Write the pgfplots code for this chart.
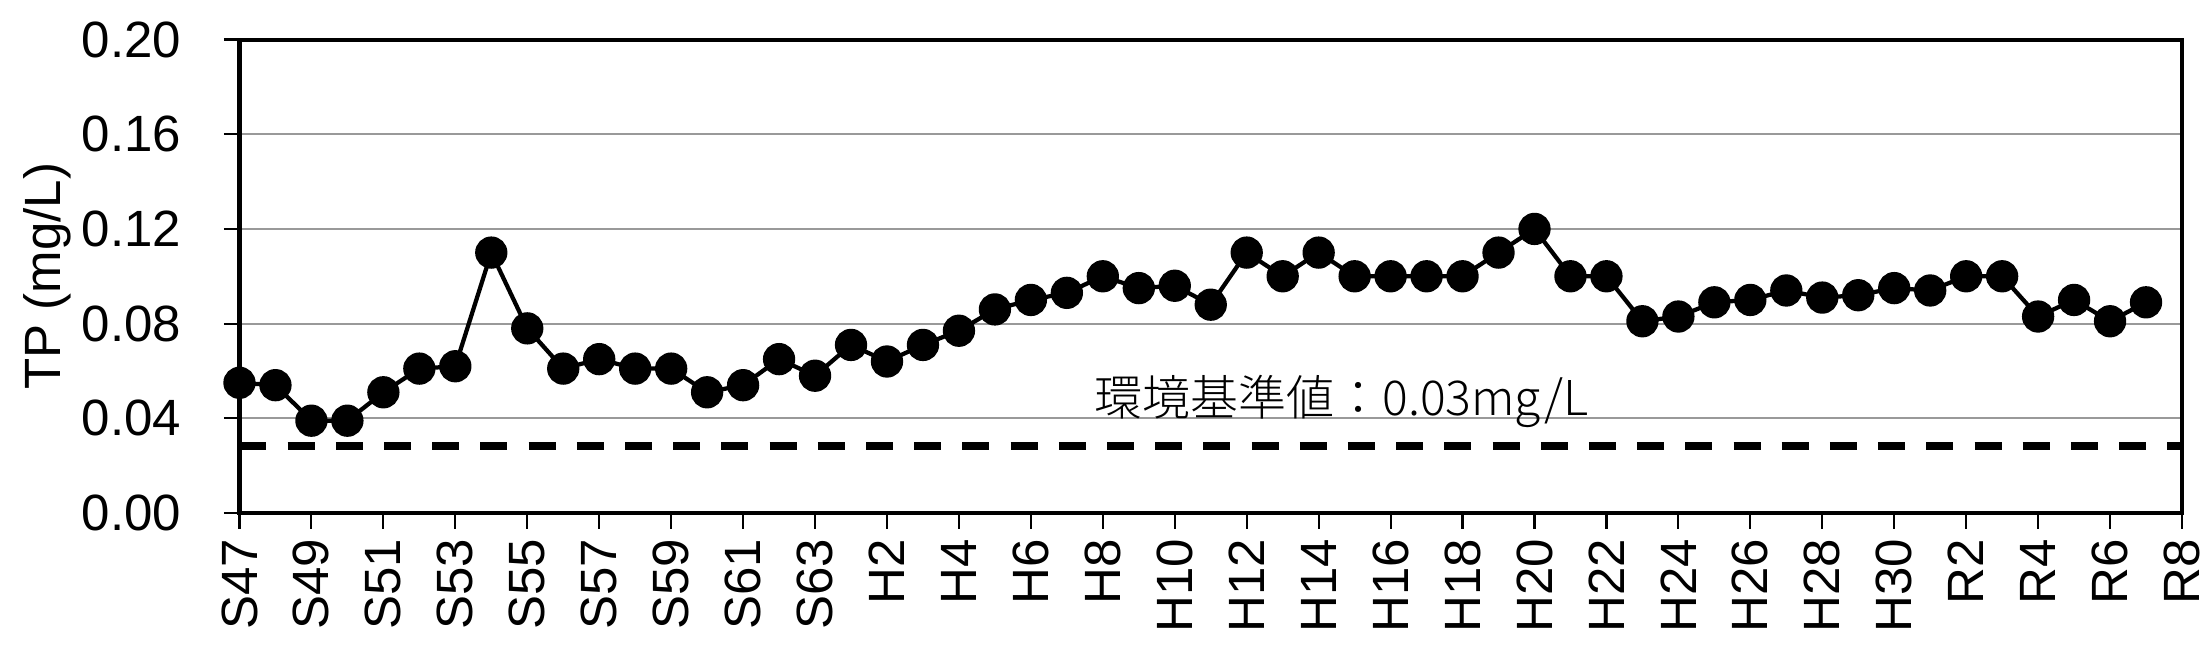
\documentclass[border=0pt]{standalone}
\usepackage{fontspec}
\setmainfont{Liberation Sans}
\newfontfamily\jp{Noto Sans CJK JP}[UprightFont=* Light]
\usepackage{pgfplots}
\pgfplotsset{compat=1.18}
\begin{document}
\begin{tikzpicture}
\useasboundingbox (-56.35pt,-32pt) rectangle (463.41pt,120.71pt);
\begin{axis}[
  at={(0,0)}, anchor=south west,
  scale only axis, width=457.06pt, height=111.41pt,
  xmin=0, xmax=54, ymin=0, ymax=0.2,
  clip=false,
  axis line style={line width=0.95pt},
  xtick={0,2,...,54},
  xticklabels={S47,S49,S51,S53,S55,S57,S59,S61,S63,H2,H4,H6,H8,H10,H12,H14,H16,H18,H20,H22,H24,H26,H28,H30,R2,R4,R6,R8},
  ytick={0,0.04,0.08,0.12,0.16,0.2},
  yticklabels={0.00,0.04,0.08,0.12,0.16,0.20},
  tick pos=left,
  tick align=outside,
  major tick length=3.7pt,
  every tick/.style={black, line width=0.5pt},
  ymajorgrids, grid style={black!40, line width=0.5pt},
  tick label style={font=\fontsize{12}{14}\selectfont, inner sep=0pt},
  xticklabel style={rotate=90, anchor=east},
  yticklabel style={anchor=east},
  xticklabel shift=2.2pt,
  yticklabel shift=9.8pt,
  ylabel={TP (mg/L)},
  ylabel style={at={(axis description cs:-0.0923,0.5)}, anchor=base, inner sep=0pt, font=\fontsize{12}{14}\selectfont},
]
\addplot[black, line width=1.75pt, dash pattern=on 6.35pt off 4.99pt, forget plot] coordinates {(0,0.0283) (54,0.0283)};
\addplot[black, line width=1pt, mark=*, mark size=3.3pt, mark options={fill=black, solid}] coordinates {
(0,0.055) (1,0.054) (2,0.039) (3,0.039) (4,0.051) (5,0.061) (6,0.062) (7,0.110) (8,0.078) (9,0.061)
(10,0.065) (11,0.061) (12,0.061) (13,0.051) (14,0.054) (15,0.065) (16,0.058) (17,0.071) (18,0.064) (19,0.071)
(20,0.077) (21,0.086) (22,0.090) (23,0.093) (24,0.100) (25,0.095) (26,0.096) (27,0.088) (28,0.110) (29,0.100)
(30,0.110) (31,0.100) (32,0.100) (33,0.100) (34,0.100) (35,0.110) (36,0.120) (37,0.100) (38,0.100) (39,0.081)
(40,0.083) (41,0.089) (42,0.090) (43,0.094) (44,0.091) (45,0.092) (46,0.095) (47,0.094) (48,0.100) (49,0.100)
(50,0.083) (51,0.090) (52,0.081) (53,0.089)
};
\node[anchor=base west, inner sep=0pt, font=\jp\fontsize{11.3}{13}\selectfont] at (axis cs:23.74,0.041) {環境基準値：0.03mg/L};
\end{axis}
\end{tikzpicture}
\end{document}
